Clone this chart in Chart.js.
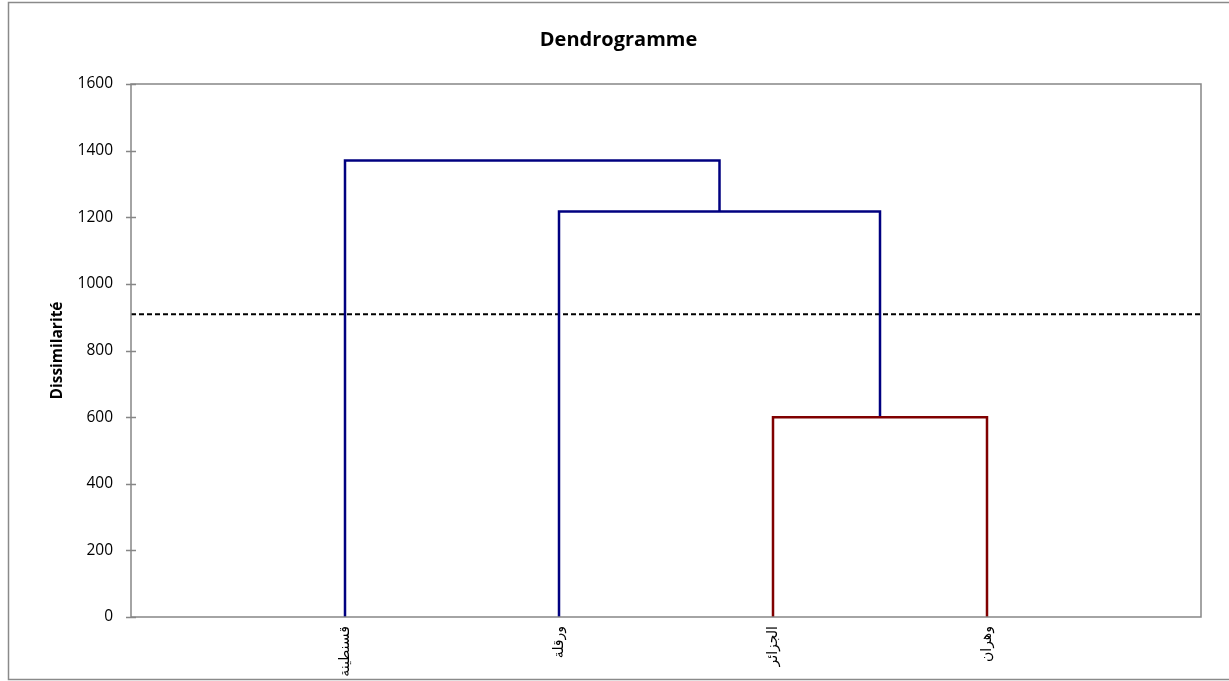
<!DOCTYPE html>
<html>
<head>
<meta charset="utf-8">
<script src="https://cdn.jsdelivr.net/npm/chart.js@4.4.1/dist/chart.umd.min.js"></script>
<style>
  html, body { margin: 0; padding: 0; background: #fff; }
  #wrap { width: 1229px; height: 681px; }
</style>
</head>
<body>
<div id="wrap"><canvas id="dendro"></canvas></div>
<script>
// leaves (left to right) and their positions on the x scale
const categories = ['قسنطينة', 'ورقلة', 'الجزائر', 'وهران'];
const leafPositions = [1, 2, 3, 4];

// merges: node ids 0-3 are leaves, 4.. are the merges below in order
const mergeA = [2, 1, 0];
const mergeB = [3, 4, 5];
const mergeHeights = [600, 1217, 1370];

// truncation level (dashed line)
const cutHeight = 909;

const yTicks = [0, 200, 400, 600, 800, 1000, 1200, 1400, 1600];

const mergeColors = ['#800000', '#000080', '#000080'];
const frameColor = '#868686';

// position + height of every node
var nodeX = leafPositions.slice();
var nodeH = leafPositions.map(function () { return 0; });
mergeHeights.forEach(function (h, i) {
    nodeX.push((nodeX[mergeA[i]] + nodeX[mergeB[i]]) / 2);
    nodeH.push(h);
});

var datasets = mergeHeights.map(function (h, i) {
    var a = mergeA[i], b = mergeB[i];
    return {
        data: [
            {x: nodeX[a], y: nodeH[a]},
            {x: nodeX[a], y: h},
            {x: nodeX[b], y: h},
            {x: nodeX[b], y: nodeH[b]}
        ],
        borderColor: mergeColors[i],
        borderWidth: 2.5,
        pointRadius: 0,
        tension: 0,
        fill: false
    };
});

datasets.push({
    data: [{x: 0, y: cutHeight}, {x: 5, y: cutHeight}],
    borderColor: '#000',
    borderWidth: 2,
    borderDash: [5, 3],
    pointRadius: 0,
    fill: false
});

// plot frame, y cross ticks and outer border
const framePlugin = {
    id: 'frame',
    afterDraw: function (chart) {
        var ctx = chart.ctx, a = chart.chartArea, y = chart.scales.y;
        ctx.save();
        ctx.strokeStyle = frameColor;
        ctx.lineWidth = 1.5;
        ctx.strokeRect(a.left, a.top, a.right - a.left, a.bottom - a.top);
        ctx.beginPath();
        yTicks.forEach(function (v) {
            var py = Math.round(y.getPixelForValue(v)) + 0.5;
            ctx.moveTo(a.left - 5, py);
            ctx.lineTo(a.left + 5, py);
        });
        ctx.stroke();
        ctx.strokeStyle = '#8a8a8a';
        ctx.strokeRect(8.5, 2.5, 1240, 677);
        ctx.restore();
    }
};

new Chart(document.getElementById('dendro'), {
    type: 'line',
    data: {datasets: datasets},
    plugins: [framePlugin],
    options: {
        responsive: true,
        maintainAspectRatio: false,
        animation: false,
        layout: {padding: {left: 8, right: 0, top: 2, bottom: 4}},
        plugins: {
            legend: {display: false},
            tooltip: {enabled: false},
            title: {
                display: true,
                text: 'Dendrogramme',
                color: '#000',
                font: {family: 'Open Sans', size: 20, weight: 'bold'},
                padding: {top: 26, bottom: 32}
            }
        },
        scales: {
            x: {
                type: 'linear',
                min: 0,
                max: 5,
                afterBuildTicks: function (scale) {
                    scale.ticks = leafPositions.map(function (v) { return {value: v}; });
                },
                afterFit: function (scale) { scale.height = 60; },
                grid: {display: false, drawTicks: false},
                border: {display: false},
                ticks: {
                    autoSkip: false,
                    minRotation: 90,
                    maxRotation: 90,
                    padding: 9,
                    color: '#000',
                    font: {family: 'DejaVu Sans', size: 14},
                    callback: function (v) { return categories[leafPositions.indexOf(v)]; }
                }
            },
            y: {
                min: 0,
                max: 1600,
                afterBuildTicks: function (scale) {
                    scale.ticks = yTicks.map(function (v) { return {value: v}; });
                },
                afterFit: function (scale) { scale.width = 123; },
                grid: {display: false, drawTicks: false},
                border: {display: false},
                ticks: {
                    padding: 18,
                    color: '#000',
                    font: {family: 'Open Sans', size: 15.5},
                    callback: function (v) { return String(v); }
                },
                title: {
                    display: true,
                    text: 'Dissimilarité',
                    color: '#000',
                    font: {family: 'Open Sans', size: 15.5, weight: 'bold'},
                    padding: {top: 40, bottom: 0}
                }
            },
            // empty right-hand strip so the title centres on the whole chart
            yRight: {
                position: 'right',
                display: true,
                afterFit: function (scale) { scale.width = 28; },
                grid: {display: false, drawTicks: false},
                border: {display: false},
                ticks: {display: false}
            }
        }
    }
});
</script>
</body>
</html>
